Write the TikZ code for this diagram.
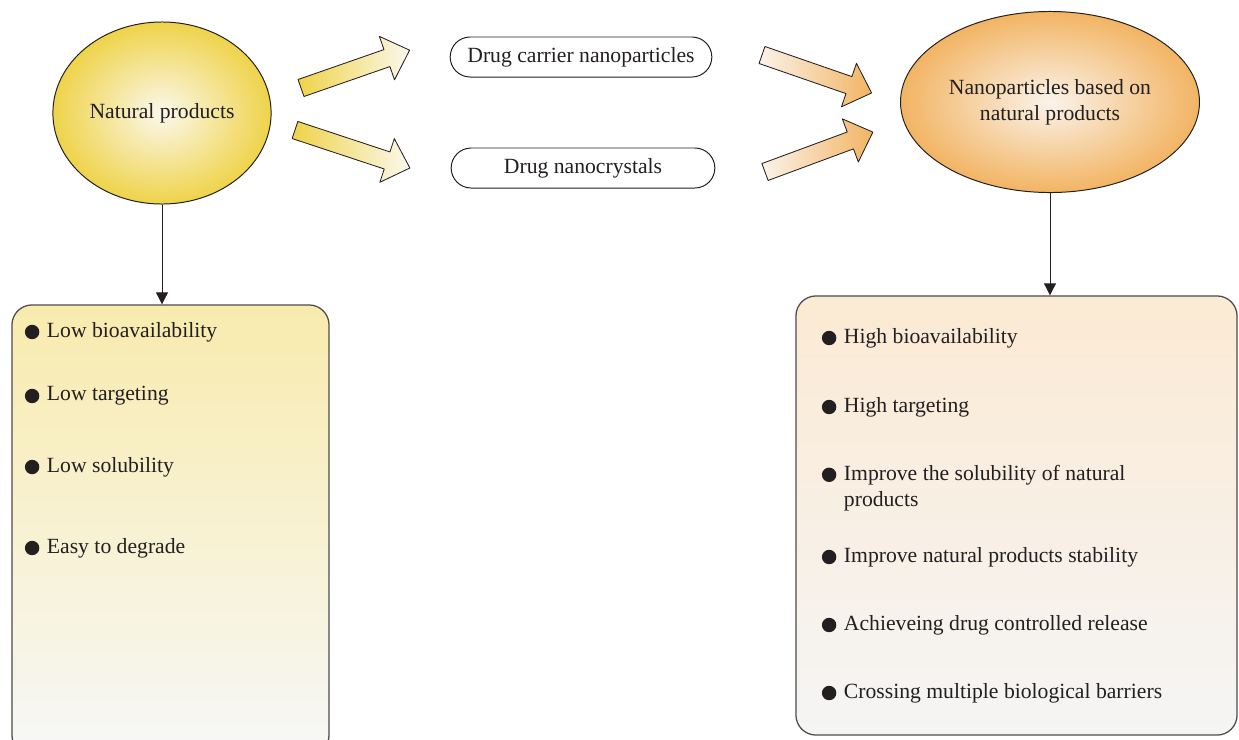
\documentclass[tikz,border=0pt]{standalone}
\usepackage{fontspec}
\setmainfont{Liberation Serif}
\usetikzlibrary{shapes.geometric,shapes.misc,arrows.meta}
\definecolor{ylwdeep}{HTML}{EFD34A}
\definecolor{ylwpale}{HTML}{FBF8EC}
\definecolor{orgdeep}{HTML}{F2B463}
\definecolor{orgpale}{HTML}{FBF3EA}
\definecolor{ink}{HTML}{231F20}
\begin{document}
\begin{tikzpicture}[x=0.025cm,y=0.025cm,line join=round,>={Triangle[width=0.3cm,length=0.3cm]}]
	\tikzset{every node/.style={font=\fontsize{15.4}{18.5}\selectfont,text=ink},
		bulletdot/.style={circle,fill=ink,inner sep=0pt,minimum size=0.36cm},
		item/.style={anchor=west,align=left,label={[bulletdot,label distance=0.06cm]left:}},
		bigarrow/.style={draw=ink,line width=0.6pt},
		pill/.style={rounded rectangle,draw=ink,line width=0.7pt,minimum height=1cm}}
	\useasboundingbox (0,0) rectangle (1239,-739);
	% source and result
	\node[ellipse,draw=ink,line width=0.7pt,inner color=ylwpale,outer color=ylwdeep,
		minimum width=5.3cm,minimum height=4.55cm] (nat) at (162,-113) {Natural products};
	\node[ellipse,draw=ink,line width=0.7pt,inner color=orgpale,outer color=orgdeep,
		minimum width=6.675cm,minimum height=4.525cm,align=center] (npnat) at (1050,-102)
		{Nanoparticles based on\\natural products};
	% two routes
	\node[pill,minimum width=6.775cm] (carrier) at (581,-57) {Drug carrier nanoparticles};
	\node[pill,minimum width=6.825cm] (crystal) at (583,-168) {Drug nanocrystals};
	% block arrows
	\shade[bigarrow,left color=ylwdeep,right color=ylwpale,shift={(301,-88)},rotate=19.2]
		(0,-9)--(91,-9)--(91,-23)--(115,0)--(91,23)--(91,9)--(0,9)--cycle;
	\shade[bigarrow,left color=ylwdeep,right color=ylwpale,shift={(295,-130)},rotate=-18.3]
		(0,-9)--(97,-9)--(97,-23)--(121,0)--(97,23)--(97,9)--(0,9)--cycle;
	\shade[bigarrow,left color=orgpale,right color=orgdeep,shift={(762,-55)},rotate=-19.1]
		(0,-9)--(92,-9)--(92,-23)--(116,0)--(92,23)--(92,9)--(0,9)--cycle;
	\shade[bigarrow,left color=orgpale,right color=orgdeep,shift={(765,-172)},rotate=20.3]
		(0,-9)--(91,-9)--(91,-23)--(115,0)--(91,23)--(91,9)--(0,9)--cycle;
	% property boxes
	\node[draw=black!70,line width=0.9pt,rounded corners=0.5cm,top color=ylwdeep!45,bottom color=black!3,
		minimum width=7.925cm,minimum height=11.25cm] (lows) at (170.5,-530) {};
	\node[draw=black!70,line width=0.9pt,rounded corners=0.5cm,top color=orgdeep!28,bottom color=black!4,
		minimum width=11.025cm,minimum height=10.975cm] (highs) at (1016.5,-515.5) {};
	\draw[->,line width=0.7pt,ink] (nat.south) -- (nat.south |- lows.north);
	\draw[->,line width=0.7pt,ink] (npnat.south) -- (npnat.south |- highs.north);
	% left list
	\node[item] (low1) at (42,-332) {Low bioavailability};
	\node[item] (low2) at (42,-396) {Low targeting};
	\node[item] (low3) at (42,-467) {Low solubility};
	\node[item] (low4) at (42,-548) {Easy to degrade};
	% right list
	\node[item] (high1) at (839,-338) {High bioavailability};
	\node[item] (high2) at (839,-407) {High targeting};
	\node[anchor=west,align=left,label={[bulletdot,label distance=0.06cm,yshift=0.33cm]left:}]
		(high3) at (839,-488) {Improve the solubility of natural\\products};
	\node[item] (high4) at (839,-557) {Improve natural products stability};
	\node[item] (high5) at (839,-625) {Achieveing drug controlled release};
	\node[item] (high6) at (839,-693) {Crossing multiple biological barriers};
\end{tikzpicture}
\end{document}
